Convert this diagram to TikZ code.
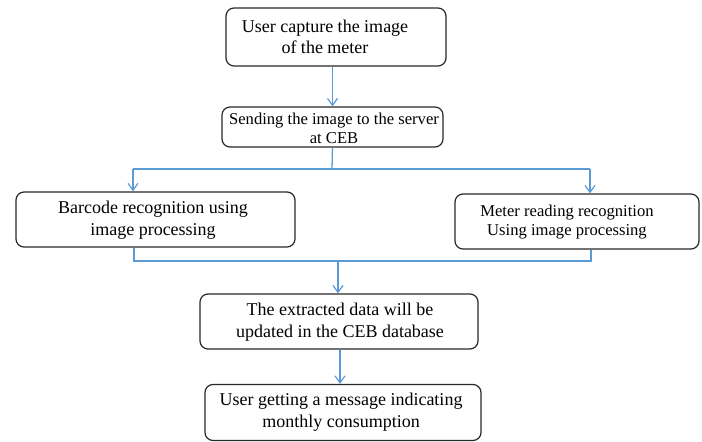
\documentclass[tikz,border=0pt]{standalone}
\usepackage{fontspec}
\setmainfont{Liberation Serif}
\usetikzlibrary{arrows.meta}
\definecolor{flowblue}{RGB}{91,155,213}
\definecolor{boxline}{RGB}{40,40,40}
\tikzset{
  box/.style={draw=boxline, line width=1.2pt, rounded corners=8pt, inner sep=0pt},
  bigtxt/.style={align=center, font=\fontsize{18}{21.5}\selectfont, inner sep=0pt},
  smalltxt/.style={align=center, font=\fontsize{16.6}{19}\selectfont, inner sep=0pt},
  flow/.style={draw=flowblue, line width=1.3pt},
  flowarrow/.style={flow, -{Straight Barb[length=7pt,width=10pt,line width=1.2pt]}}
}
\begin{document}
\begin{tikzpicture}[x=1pt,y=1pt]
\useasboundingbox (0,0) rectangle (702,442);
% boxes
\node[box, minimum width=220, minimum height=58] (b1) at (336,405) {};
\node[bigtxt] (t1) at (325,405) {User capture the image\\of the meter};
\node[box, minimum width=221, minimum height=40] (b2) at (332.5,315) {};
\node[smalltxt] (t2) at (334,314) {Sending the image to the server\\at CEB};
\node[box, minimum width=279, minimum height=55] (b3) at (155.5,222.5) {};
\node[bigtxt] (t3) at (153,222) {Barcode recognition using\\image processing};
\node[box, minimum width=244, minimum height=55] (b4) at (577,220.5) {};
\node[smalltxt] (t4) at (567,220) {Meter reading recognition\\Using image processing};
\node[box, minimum width=278, minimum height=55] (b5) at (339,120.5) {};
\node[bigtxt] (t5) at (340,120) {The extracted data will be\\updated in the CEB database};
\node[box, minimum width=276, minimum height=56] (b6) at (343,29.5) {};
\node[bigtxt] (t6) at (341,30) {User getting a message indicating\\monthly consumption};
% connectors
\draw[flowarrow] (b2.north |- b1.south) -- (b2.north);
\coordinate (split) at (332,273);
\coordinate (sl) at (133,273);
\coordinate (sr) at (590,273);
\draw[flow] (b2.south) -- (split);
\draw[flow] (sl) -- (sr);
\draw[flowarrow] (sl) -- (sl |- b3.north);
\draw[flowarrow] (sr) -- (sr |- b4.north);
\coordinate (jl) at (134,181);
\coordinate (jr) at (591,181);
\coordinate (jm) at (338,181);
\draw[flow] (jl |- b3.south) -- (jl) -- (jr) -- (jr |- b4.south);
\draw[flowarrow] (jm) -- (jm |- b5.north);
\draw[flowarrow] (b5.south -| 340,0) -- (b6.north -| 340,0);
\end{tikzpicture}
\end{document}
